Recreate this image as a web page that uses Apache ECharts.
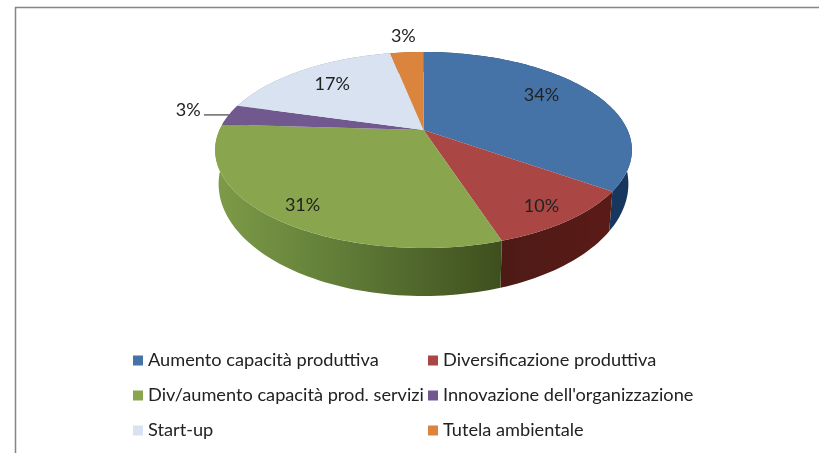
<!DOCTYPE html>
<html>
<head>
<meta charset="utf-8">
<style>html,body{margin:0;padding:0;background:#fff}#c{width:819px;height:453px}</style>
<script src="https://cdn.jsdelivr.net/npm/echarts@6/dist/echarts.min.js"></script>
</head>
<body>
<div id="c"></div>
<script>
// Data
const categories = ['Aumento capacità produttiva','Diversificazione produttiva','Div/aumento capacità prod. servizi',"Innovazione dell'organizzazione",'Start-up','Tutela ambientale'];
const values = [34.4,10.1,30.6,3.4,17.3,3.1];
const topColors = ['#4572A7','#AA4643','#89A54E','#71588F','#D8E2F0','#DB843D'];
const labelRadius = [0.74,0.856,0.854,1.227,0.731,1.264];
const labelTurn = [-5,1,-1,1,0,0];
const hasLeader = [false,false,false,true,false,false];

const sideFills = [
  '#17375E',
  {type:'linear',x:0,y:0,x2:1,y2:0,colorStops:[{offset:0,color:'#4E1A16'},{offset:1,color:'#5A1B16'}]},
  {type:'linear',x:0,y:0,x2:1,y2:0,colorStops:[{offset:0,color:'#7D9B47'},{offset:0.45,color:'#607C37'},{offset:1,color:'#3E4F1E'}]},
  '#4A3660','#8F98A5','#8F5526'
];

// Pie projection
const CX=423.5, APEX_Y=130, P_A=67.4, P_C=-0.204, R=204;
const TOP_CY=150, TOP_RX=208.5, TOP_RY=98, BOT_CY=184, BOT_RX=205, BOT_RY=112;
const total = values.reduce((a,b)=>a+b,0);
const project=(deg,rho)=>{
  const t=deg*Math.PI/180, u=Math.sin(t)*rho, v=-Math.cos(t)*rho, d=1+P_C*v;
  return [CX+R*u/d,(P_A*v+APEX_Y)/d];
};
const lower=p=>[CX+(p[0]-CX)*BOT_RX/TOP_RX, BOT_CY+(p[1]-TOP_CY)*BOT_RY/TOP_RY];
const startOf=i=>values.slice(0,i).reduce((a,b)=>a+b,0)/total*360;

function renderSlice(i){
  return function(params,api){
    const a0=startOf(i), a1=a0+api.value(0)/total*360;
    const rim=[], steps=Math.max(2,Math.ceil((a1-a0)/1.5));
    for(let k=0;k<=steps;k++) rim.push(project(a0+(a1-a0)*k/steps,1));
    const mid=(a0+a1)/2;
    const lp=project(mid+labelTurn[i],labelRadius[i]);
    const children=[
      {type:'polygon',z2:1,shape:{points:rim.concat(rim.slice().reverse().map(lower))},style:{fill:sideFills[i]}},
      {type:'polygon',z2:5,shape:{points:[project(0,0)].concat(rim)},style:{fill:topColors[i]}},
      {type:'text',z2:10,style:{x:lp[0],y:lp[1],text:Math.round(api.value(0))+'%',align:'center',verticalAlign:'middle',
        font:'18px Lato',fill:'#222'}}
    ];
    if(hasLeader[i]){
      const e=project(mid,1);
      children.push({type:'line',z2:10,shape:{x1:e[0],y1:e[1],x2:e[0]-25,y2:e[1]},style:{stroke:'#444',lineWidth:1.2}});
    }
    return {type:'group',children};
  };
}

const legendBase={orient:'vertical',icon:'rect',itemWidth:10,itemHeight:10,itemGap:16,selectedMode:false,
  textStyle:{fontFamily:'Lato',fontSize:18.2,color:'#222',lineHeight:19}};

const chart=echarts.init(document.getElementById('c'),null,{renderer:'canvas'});
chart.setOption({
  backgroundColor:'#fff',
  animation:false,
  tooltip:{show:false},
  graphic:[
    {type:'line',silent:true,shape:{x1:15,y1:7.5,x2:819,y2:7.5},style:{stroke:'#858585',lineWidth:1.5}},
    {type:'line',silent:true,shape:{x1:15.5,y1:7,x2:15.5,y2:453},style:{stroke:'#858585',lineWidth:1.5}}
  ],
  legend:[
    Object.assign({},legendBase,{left:128,top:346,data:[categories[0],categories[2],categories[4]]}),
    Object.assign({},legendBase,{left:423,top:346,data:[categories[1],categories[3],categories[5]]})
  ],
  series:categories.map((name,i)=>({
    type:'custom',name,coordinateSystem:'none',silent:true,
    itemStyle:{color:topColors[i]},
    renderItem:renderSlice(i),
    data:[[values[i]]]
  }))
});
</script>
</body>
</html>
